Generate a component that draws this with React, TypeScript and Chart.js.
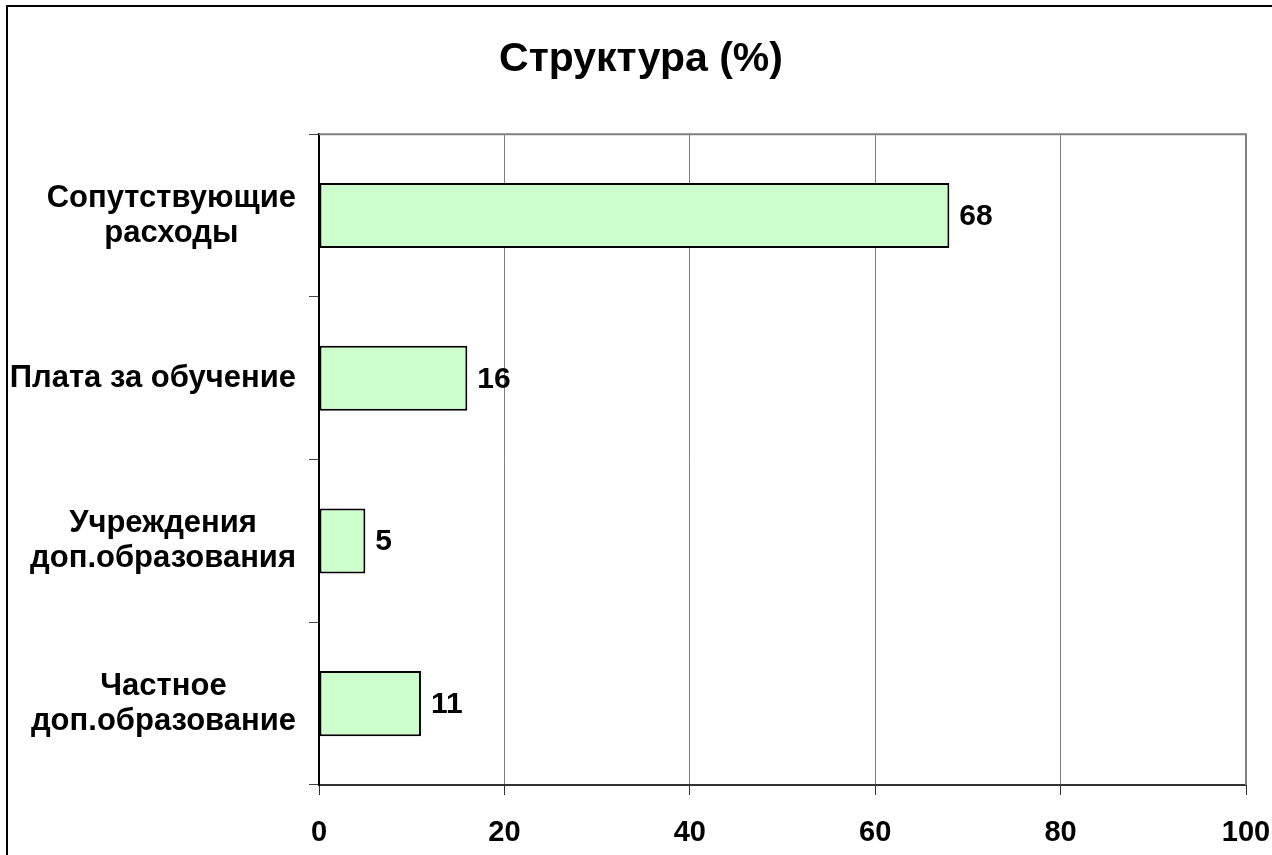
import React, { useEffect, useRef } from "react";
import { Chart, registerables } from "chart.js";

Chart.register(...registerables);

const titleText = "Структура (%)";
const categories: string[][] = [
  ["Сопутствующие", "расходы"],
  ["Плата за обучение"],
  ["Учреждения", "доп.образования"],
  ["Частное", "доп.образование"],
];
const values = [68, 16, 5, 11];
const xTicks = [0, 20, 40, 60, 80, 100];

const FONT = "'Liberation Sans', Arial, sans-serif";

const decorPlugin = {
  id: "decor",
  beforeDraw(chart: any) {
    const ctx = chart.ctx;
    ctx.save();
    ctx.fillStyle = "#ffffff";
    ctx.fillRect(0, 0, chart.width, chart.height);
    ctx.strokeStyle = "#000000";
    ctx.lineWidth = 2;
    ctx.strokeRect(7, 6, chart.width + 20, chart.height + 20);
    ctx.restore();
  },
  afterDraw(chart: any) {
    const ctx = chart.ctx;
    const a = chart.chartArea;
    ctx.save();
    ctx.strokeStyle = "#808080";
    ctx.lineWidth = 2;
    ctx.beginPath();
    ctx.moveTo(a.left, a.top);
    ctx.lineTo(a.right, a.top);
    ctx.lineTo(a.right, a.bottom);
    ctx.stroke();

    const yScale = chart.scales.y;
    ctx.font = `bold 31px ${FONT}`;
    ctx.fillStyle = "#000000";
    ctx.textAlign = "center";
    ctx.textBaseline = "middle";
    const lineH = 35;
    const rightEdge = a.left - 23;
    (chart.data.labels as string[][]).forEach((lines, i) => {
      const cy = yScale.getPixelForValue(i);
      const w = Math.max(...lines.map((l) => ctx.measureText(l).width));
      const cx = rightEdge - w / 2;
      lines.forEach((l, j) => {
        ctx.fillText(l, cx, cy + (j - (lines.length - 1) / 2) * lineH);
      });
    });

    const meta = chart.getDatasetMeta(0);
    ctx.font = `bold 30px ${FONT}`;
    ctx.textAlign = "left";
    meta.data.forEach((bar: any, i: number) => {
      const v = chart.data.datasets[0].data[i];
      ctx.fillText(String(v), bar.x + 10, bar.y + 1);
    });
    ctx.restore();
  },
};

export default function App() {
  const ref = useRef<HTMLCanvasElement | null>(null);
  useEffect(() => {
    if (!ref.current) return;
    const chart = new Chart(ref.current, {
      type: "bar",
      data: {
        labels: categories as any,
        datasets: [
          {
            data: values,
            backgroundColor: "#CCFFCC",
            borderColor: "#000000",
            borderWidth: 2,
            borderSkipped: false,
            barPercentage: 0.4,
            categoryPercentage: 1,
          },
        ],
      },
      options: {
        indexAxis: "y",
        animation: false,
        responsive: false,
        maintainAspectRatio: false,
        layout: { padding: { left: 10, right: 0, top: 0, bottom: 0 } },
        plugins: {
          legend: { display: false },
          tooltip: { enabled: false },
          title: {
            display: true,
            text: titleText,
            color: "#000000",
            font: { family: FONT, size: 41, weight: "bold" },
            padding: { top: 35, bottom: 50 },
          },
        },
        scales: {
          x: {
            type: "linear",
            min: xTicks[0],
            max: xTicks[xTicks.length - 1],
            afterBuildTicks: (scale: any) => {
              scale.ticks = xTicks.map((v) => ({ value: v }));
            },
            afterFit: (scale: any) => {
              scale.height = 70;
              scale.paddingRight = 26;
              scale.paddingLeft = 0;
            },
            ticks: {
              color: "#000000",
              font: { family: FONT, size: 29, weight: "bold" },
              padding: 21,
            },
            grid: {
              color: (c: any) => (c.tick && c.tick.value === 0 ? "rgba(0,0,0,0)" : "#808080"),
              lineWidth: 1,
              drawTicks: true,
              tickLength: 10,
              tickColor: "#333333",
            },
            border: { color: "#333333", width: 2 },
          },
          y: {
            type: "category",
            offset: true,
            ticks: { display: false },
            afterFit: (scale: any) => {
              scale.width = 309;
            },
            grid: {
              offset: true,
              drawOnChartArea: false,
              drawTicks: true,
              tickLength: 10,
              tickColor: "#444444",
            },
            border: { color: "#000000", width: 2 },
          },
        },
      },
      plugins: [decorPlugin],
    });
    return () => chart.destroy();
  }, []);
  return (
    <div style={{ position: "fixed", left: 0, top: 0, width: 1272, height: 855 }}>
      <canvas ref={ref} width={1272} height={855} style={{ display: "block" }} />
    </div>
  );
}
